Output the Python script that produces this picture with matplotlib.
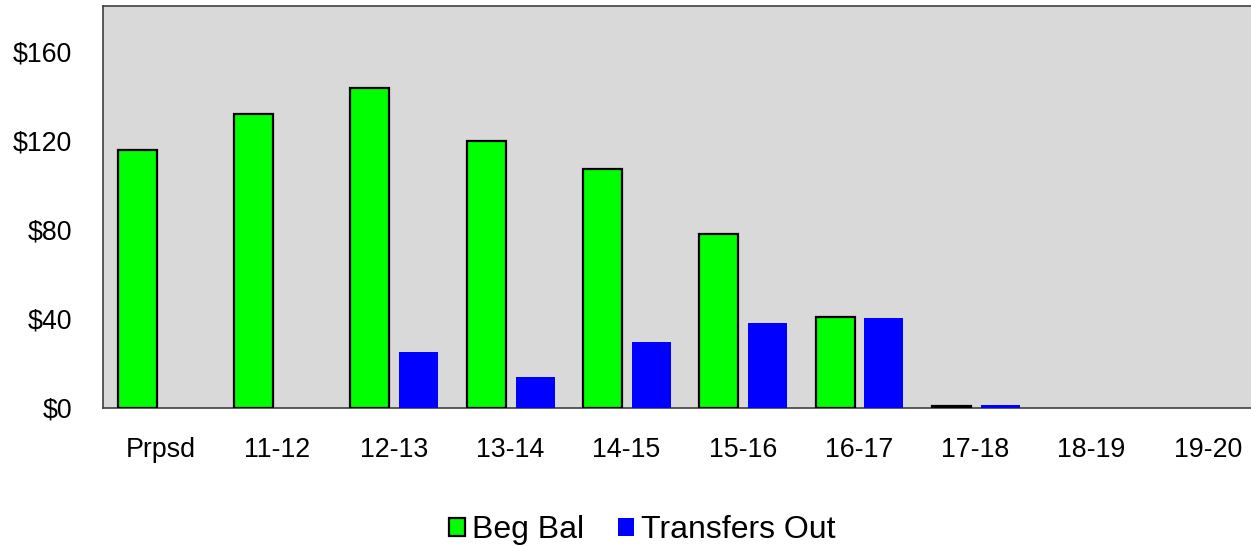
import numpy as np
import matplotlib.pyplot as plt
import matplotlib as mpl

mpl.rcParams["font.family"] = ["Liberation Sans", "DejaVu Sans"]

# Werte (in $)
jahre = ["Prpsd", "11-12", "12-13", "13-14", "14-15", "15-16", "16-17", "17-18", "18-19", "19-20"]
beg_bal = [116, 132, 143.5, 119.7, 107.1, 78.3, 41.0, 1.0, 0, 0]
transfers_out = [0, 0, 25.2, 13.9, 29.7, 38.2, 40.4, 1.3, 0, 0]
y_ticks = [0, 40, 80, 120, 160]

fig = plt.figure(figsize=(12.51, 5.46), dpi=100)
ax = fig.add_axes([103/1251, 138/546, 1163/1251, 402/546])

x = np.arange(len(jahre))
breite = 0.335

# Rand nur bei Balken > 0
rand = [1.6 if v > 0 else 0 for v in beg_bal]
ax.bar(x - 0.205, beg_bal, breite, color='#00ff00', edgecolor='black', linewidth=rand,
       label='Beg Bal', zorder=3)
ax.bar(x + 0.215, transfers_out, breite, color='#0000ff', linewidth=0,
       label='Transfers Out', zorder=3)

ax.set_facecolor('#d9d9d9')
ax.set_xlim(-0.5, len(jahre) - 0.5)
ax.set_ylim(0, 180.5)
ax.set_yticks(y_ticks)
ax.set_yticklabels([f'${v}' for v in y_ticks])
ax.set_xticks(x)
ax.set_xticklabels(jahre)
ax.tick_params(axis='both', length=0, labelsize=19.3)
ax.tick_params(axis='x', pad=21)
ax.tick_params(axis='y', pad=22)

for s in ['left', 'top', 'bottom', 'right']:
    ax.spines[s].set_color('#404040')
    ax.spines[s].set_linewidth(1.2)

fig.legend(loc='center', bbox_to_anchor=(642/1251, 16/546), ncol=2, frameon=False,
           fontsize=23, handlelength=0.5, handleheight=0.5, handletextpad=0.22,
           columnspacing=1.05)

fig.savefig('out.png', dpi=100)
